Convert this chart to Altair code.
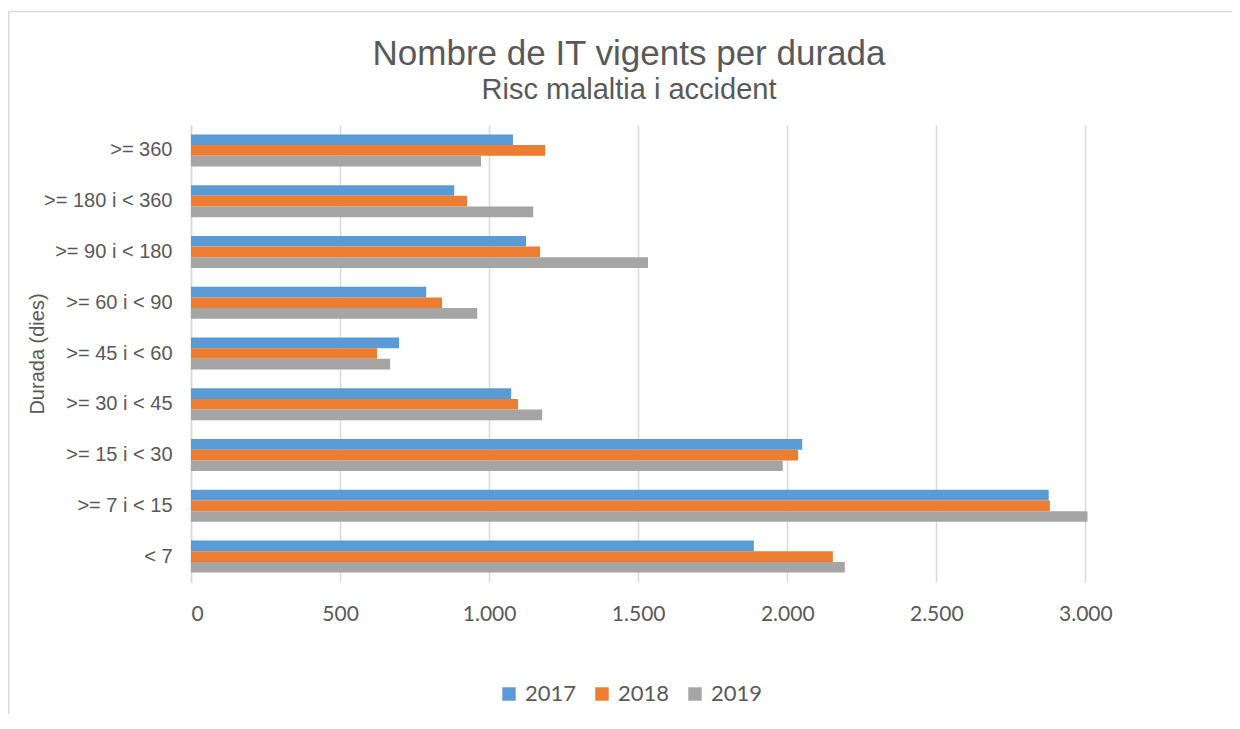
import altair as alt
import pandas as pd

categories = [">= 360", ">= 180 i < 360", ">= 90 i < 180", ">= 60 i < 90",
              ">= 45 i < 60", ">= 30 i < 45", ">= 15 i < 30", ">= 7 i < 15", "< 7"]
years = ["2017", "2018", "2019"]
v2017 = [1080, 883, 1124, 789, 698, 1074, 2050, 2877, 1888]
v2018 = [1188, 926, 1171, 842, 624, 1097, 2036, 2881, 2153]
v2019 = [973, 1148, 1533, 960, 668, 1178, 1985, 3007, 2193]
colors = ["#5B9BD5", "#ED7D31", "#A5A5A5"]
x_ticks = [0, 500, 1000, 1500, 2000, 2500, 3000]
title_text = "Nombre de IT vigents per durada"
subtitle_text = "Risc malaltia i accident"

rows = []
for yr, vals in zip(years, [v2017, v2018, v2019]):
    for c, v in zip(categories, vals):
        rows.append({"cat": c, "year": yr, "value": v})
df = pd.DataFrame(rows)

W, H = 954, 457
PL, PT, PR, PB = 183, 117, 87, 132
one = pd.DataFrame({"a": [0]})

bars = alt.Chart(df).mark_bar().encode(
    y=alt.Y("cat:N", sort=categories,
            scale=alt.Scale(paddingInner=0.37, paddingOuter=0.185),
            axis=alt.Axis(title="Durada (dies)", titleFontSize=20, titleFontWeight="normal",
                          titleColor="#595959", titleFont="Liberation Sans",
                          titleX=-154, titleY=H / 2, titleAngle=270,
                          titleAlign="center", titleBaseline="middle",
                          labelFont="Liberation Sans", labelFontSize=20,
                          labelColor="#595959", labelPadding=19, ticks=False,
                          domain=True, domainColor="#D9D9D9", domainWidth=1.5,
                          grid=False)),
    yOffset=alt.YOffset("year:N", sort=years),
    x=alt.X("value:Q",
            scale=alt.Scale(domain=[0, 3200], nice=False, zero=True),
            axis=alt.Axis(title=None, values=x_ticks,
                          labelExpr="replace(format(datum.value, ','), ',', '.')",
                          labelFont="Lato", labelFontSize=21, labelColor="#595959",
                          labelPadding=21, ticks=False, domain=False,
                          grid=True, gridColor="#D9D9D9", gridWidth=1.5)),
    color=alt.Color("year:N", sort=years,
                    scale=alt.Scale(domain=years, range=colors),
                    legend=alt.Legend(title=None, orient="none", direction="horizontal",
                                      legendX=307, legendY=558,
                                      symbolType="square", symbolSize=180,
                                      symbolStrokeWidth=0,
                                      labelFont="Lato", labelFontSize=22,
                                      labelColor="#595959", labelOffset=5,
                                      columnPadding=14, padding=0)),
)

frame_top = alt.Chart(one).mark_rule(color="#D9D9D9", strokeWidth=1.5, clip=False).encode(
    x=alt.value(-PL + 0.75), x2=alt.value(W + PR + 20),
    y=alt.value(-PT + 3.5),
)
frame_left = alt.Chart(one).mark_rule(color="#D9D9D9", strokeWidth=1.5, clip=False).encode(
    x=alt.value(-PL + 0.75),
    y=alt.value(-PT + 3.5), y2=alt.value(H + PB + 20),
)

title = alt.Chart(one).mark_text(
    text=title_text, font="Liberation Sans", fontSize=35, color="#595959",
    align="center", baseline="alphabetic", clip=False,
).encode(x=alt.value(438), y=alt.value(-60))

subtitle = alt.Chart(one).mark_text(
    text=subtitle_text, font="Liberation Sans", fontSize=29, color="#595959",
    align="center", baseline="alphabetic", clip=False,
).encode(x=alt.value(438), y=alt.value(-26))

chart = alt.layer(frame_top, frame_left, bars, title, subtitle).properties(
    width=W, height=H,
    autosize=alt.AutoSizeParams(type="none"),
    padding={"left": PL, "top": PT, "right": PR, "bottom": PB},
).configure_view(stroke=None)

chart.save("out.html", embed_options={"renderer": "svg", "actions": False})
